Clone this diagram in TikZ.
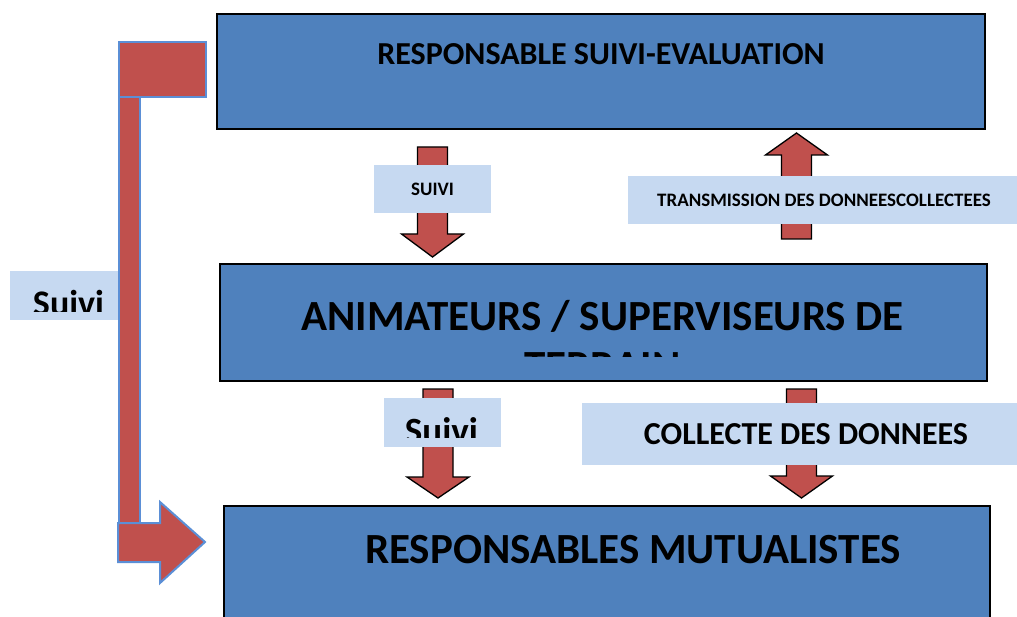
\documentclass[tikz,border=0pt]{standalone}
\usepackage{fontspec}
\setmainfont{Carlito}

\definecolor{boxblue}{HTML}{4F81BD}
\definecolor{notefill}{HTML}{C6D9F1}
\definecolor{arrowred}{HTML}{C0504D}
\definecolor{edgeblue}{HTML}{5B8FD6}

% vertical block arrow: centre x, tail y, head base y, tip y
\newcommand{\blockarrow}[4]{%
  \filldraw[block arrow] (#1-15,#2) -- (#1+15,#2) -- (#1+15,#3) -- (#1+31,#3)
    -- (#1,#4) -- (#1-31,#3) -- (#1-15,#3) -- cycle;}

\begin{document}
\begin{tikzpicture}[
    x=1pt, y=-1pt, % one unit per pixel, y running downwards
    level box/.style={draw=black, line width=1.8pt, fill=boxblue, inner sep=0pt},
    note box/.style={fill=notefill, inner sep=0pt},
    block arrow/.style={fill=arrowred, draw=black, line width=1.3pt, line join=miter},
    side arrow/.style={fill=arrowred, draw=edgeblue, line width=2pt},
    big/.style={font=\bfseries\fontsize{43}{50}\selectfont},
    mid/.style={font=\bfseries\fontsize{32}{38}\selectfont},
    small/.style={font=\bfseries\fontsize{19}{23}\selectfont}
  ]

  \clip (0,0) rectangle (1017,617);

  % Levels
  \node[level box, anchor=north, minimum width=768pt, text height=51pt, text depth=64pt,
        font=\bfseries\fontsize{32}{38}\selectfont] (rse) at (601,13) {RESPONSABLE SUIVI-EVALUATION};
  \node[level box, anchor=north, minimum width=767pt, minimum height=117pt] (anim) at (603.5,263) {};
  \node[level box, anchor=north, minimum width=766pt, minimum height=150pt] (mut) at (607,505) {};

  % Field level title, cut by the box
  \begin{scope}
    \clip (222,265) rectangle (985,357);
    \node[big, anchor=base] (anim-l1) at (602.5,331) {ANIMATEURS / SUPERVISEURS DE};
    \node[big, anchor=base] (anim-l2) at (602.5,381) {TERRAIN};
  \end{scope}
  \node[big, anchor=base] (mut-t) at (633,563) {RESPONSABLES MUTUALISTES};

  % Arrows between levels
  \blockarrow{432.5}{147}{234}{257}
  \blockarrow{796.5}{239}{155}{133}
  \blockarrow{438}{389}{477}{498}
  \blockarrow{801.5}{389}{476}{498}

  % Direct follow-up on the left
  \filldraw[side arrow] (119,96) rectangle (140,525);
  \filldraw[side arrow] (119,42) rectangle (206,97);
  \filldraw[side arrow] (118,523) -- (160,523) -- (160,502) -- (205,542)
    -- (160,583) -- (160,562) -- (118,562) -- cycle;

  % Arrow labels
  \node[note box, minimum width=117pt, minimum height=48pt, small] (suivi1) at (432.5,189) {SUIVI};
  \node[note box, minimum width=392pt, minimum height=48pt, small] (trans) at (824,200)
    {TRANSMISSION DES DONNEESCOLLECTEES};
  \node[note box, minimum width=448pt, minimum height=62pt, mid] (coll) at (806,434) {COLLECTE DES DONNEES};

  \node[note box, minimum width=108pt, minimum height=49pt] (suivi0) at (64,295.5) {};
  \node[note box, minimum width=117pt, minimum height=49pt] (suivi2) at (442.5,422.5) {};
  \begin{scope}
    \clip (10,271) rectangle (118,312);
    \node[anchor=base, font=\bfseries\fontsize{36}{43}\selectfont] (suivi0-t) at (68.5,316) {Suivi};
  \end{scope}
  \begin{scope}
    \clip (384,398) rectangle (501,437);
    \node[anchor=base, font=\bfseries\fontsize{37}{44}\selectfont] (suivi2-t) at (441.5,443) {Suivi};
  \end{scope}

\end{tikzpicture}
\end{document}
